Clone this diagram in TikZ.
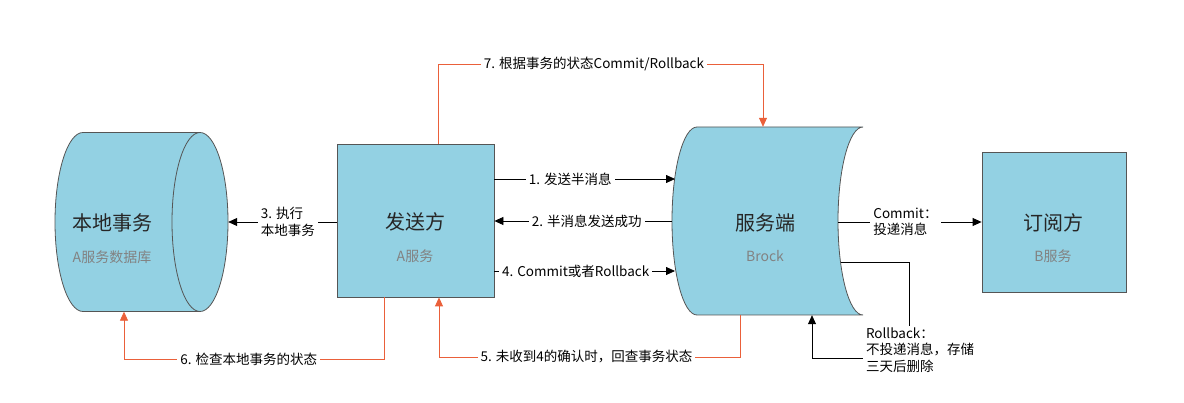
\documentclass[tikz,border=0pt]{standalone}
\usepackage{fontspec}
\newfontfamily\cjk{Noto Sans CJK SC}
\usetikzlibrary{arrows.meta}
\usetikzlibrary{positioning}
\definecolor{boxblue}{RGB}{147,209,227}
\definecolor{edgegray}{RGB}{85,85,85}
\definecolor{backred}{RGB}{234,96,58}
\definecolor{subgray}{RGB}{130,130,130}
\tikzset{
  box/.style={draw=edgegray,fill=boxblue,line width=0.8pt,inner sep=0pt},
  title/.style={font=\cjk\fontsize{20}{24}\selectfont,text=black!85},
  subtitle/.style={font=\cjk\fontsize{14}{16}\selectfont,text=subgray},
  lbl/.style={font=\cjk\fontsize{13.5}{16.5}\selectfont,fill=white,inner xsep=3pt,inner ysep=1pt,align=left},
  flow/.style={draw=black,line width=0.8pt,-{Triangle[length=9pt,width=8pt]}},
  back/.style={draw=backred,line width=0.8pt,-{Triangle[length=9pt,width=8pt]}},
}
\begin{document}
\begin{tikzpicture}[x=1pt,y=-1pt]
\useasboundingbox (0,0) rectangle (1184,403);

% local transaction (cylinder)
\path[box] (83,132.5) -- (200,132.5) .. controls (215.5,132.5) and (228,172.6) .. (228,222)
  .. controls (228,271.4) and (215.5,311.5) .. (200,311.5) -- (83,311.5)
  .. controls (67.5,311.5) and (55,271.4) .. (55,222)
  .. controls (55,172.6) and (67.5,132.5) .. (83,132.5) -- cycle;
\draw[edgegray,line width=0.8pt] (200,132.5) .. controls (184.5,132.5) and (172,172.6) .. (172,222)
  .. controls (172,271.4) and (184.5,311.5) .. (200,311.5);
\node[inner sep=0pt,minimum width=173pt,minimum height=179pt] (db) at (141.5,222) {};
\node[title] (dbT) at (112,223) {本地事务};
\node[subtitle] (dbS) at (112,257) {A服务数据库};

% sender
\node[box,minimum width=157pt,minimum height=153pt] (snd) at (415.5,220.5) {};
\node[title] (sndT) at (415,222) {发送方};
\node[subtitle] (sndS) at (415,256) {A服务};

% broker
\path[box] (697,127) -- (863,127) .. controls (849.2,127) and (838,168.9) .. (838,221)
  .. controls (838,273.1) and (849.2,315) .. (863,315) -- (697,315)
  .. controls (683.2,315) and (672,273.1) .. (672,221)
  .. controls (672,168.9) and (683.2,127) .. (697,127) -- cycle;
\node[inner sep=0pt,minimum width=191pt,minimum height=188pt] (srv) at (767.5,221) {};
\coordinate (srvA) at (675,179);
\coordinate (srvB) at (672,221);
\coordinate (srvC) at (675,271);
\coordinate (srvD) at (838,222);
\coordinate (srvE) at (840.5,262);
\node[title] (srvT) at (765,223) {服务端};
\node[subtitle] (srvS) at (765,256) {Brock};

% subscriber
\node[box,minimum width=144pt,minimum height=140pt] (sub) at (1054,222) {};
\node[title] (subT) at (1053,223) {订阅方};
\node[subtitle] (subS) at (1053,256) {B服务};

% messages
\draw[flow] (snd.east |- srvA) -- node[lbl,pos=0.42]{1. 发送半消息} (srvA);
\draw[flow] (srvB) -- node[lbl,pos=0.48]{2. 半消息发送成功} (snd.east |- srvB);
\draw[flow] (snd.east |- srvC) -- node[lbl,pos=0.45]{4. Commit或者Rollback} (srvC);
\draw[flow] (snd.west |- db.east) -- node[lbl,pos=0.45]{3. 执行\\本地事务} (db.east);
\draw[flow] (srvD) -- node[lbl,pos=0.47]{Commit：\\投递消息} (sub.west |- srvD);

% check back
\draw[back] (snd.north -| 438,0) -- (438,64) -- node[lbl,pos=0.48]{7. 根据事务的状态Commit/Rollback} (763,64) -- (srv.north -| 763,0);
\draw[back] (snd.south -| 384,0) -- (384,359) -- node[lbl,pos=0.52]{6. 检查本地事务的状态} (124,359) -- (db.south -| 124,0);
\draw[back] (srv.south -| 740,0) -- (740,357) -- node[lbl,pos=0.51]{5. 未收到4的确认时，回查事务状态} (439,357) -- (snd.south -| 439,0);

% rollback
\node[lbl,fill=none] (rb) at (920,350) {Rollback：\\不投递消息，存储\\三天后删除};
\draw[line width=0.8pt] (srvE) -| (rb.north -| 909,0);
\draw[flow] (rb.west |- 0,358) -| (srv.south -| 812,0);
\end{tikzpicture}
\end{document}
